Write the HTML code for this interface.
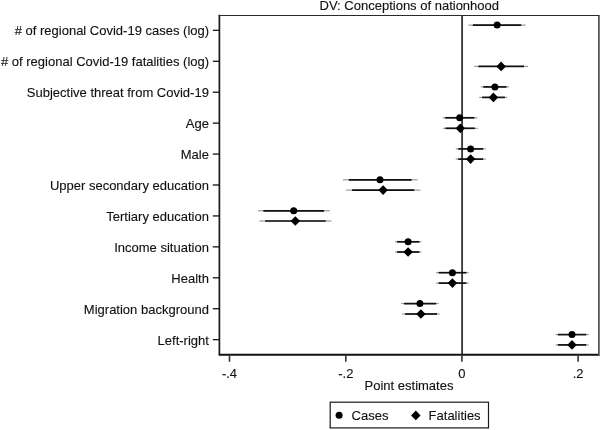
<!DOCTYPE html>
<html><head><meta charset="utf-8"><title>Coefficient plot</title>
<style>
html,body{margin:0;padding:0;background:#fff;}
body{width:600px;height:430px;overflow:hidden;}
svg{display:block;will-change:transform;}
svg text{font-family:"Liberation Sans",sans-serif;font-size:13px;fill:#111;stroke:#111;stroke-width:0.12px;}
</style></head><body>
<svg width="600" height="430" viewBox="0 0 600 430">
<rect x="0" y="0" width="600" height="430" fill="#ffffff"/>
<g>
<text x="409.3" y="10" text-anchor="middle">DV: Conceptions of nationhood</text>
<line x1="462.1" y1="15.5" x2="462.1" y2="354.6" stroke="#3a3a3a" stroke-width="1.85"/>
<path d="M219.4 14.8 V354.7" fill="none" stroke="#1a1a1a" stroke-width="1.7"/><path d="M218.65 354.7 H600" fill="none" stroke="#111" stroke-width="1.9"/><rect x="598" y="15" width="1" height="340.5" fill="#555"/><rect x="599" y="15" width="1" height="340.5" fill="#7c7c7c"/><path d="M218.7 15.5 H599" stroke="#2a2a2a" stroke-width="1.15"/>
<line x1="212.8" y1="30.35" x2="219.4" y2="30.35" stroke="#1a1a1a" stroke-width="1.35"/>
<text x="209.1" y="35" text-anchor="end"># of regional Covid-19 cases (log)</text>
<line x1="212.8" y1="61.28" x2="219.4" y2="61.28" stroke="#1a1a1a" stroke-width="1.35"/>
<text x="209.1" y="66" text-anchor="end"># of regional Covid-19 fatalities (log)</text>
<line x1="212.8" y1="92.21" x2="219.4" y2="92.21" stroke="#1a1a1a" stroke-width="1.35"/>
<text x="208.9" y="97" text-anchor="end">Subjective threat from Covid-19</text>
<line x1="212.8" y1="123.14" x2="219.4" y2="123.14" stroke="#1a1a1a" stroke-width="1.35"/>
<text x="208.9" y="128" text-anchor="end">Age</text>
<line x1="212.8" y1="154.07" x2="219.4" y2="154.07" stroke="#1a1a1a" stroke-width="1.35"/>
<text x="208.9" y="159" text-anchor="end">Male</text>
<line x1="212.8" y1="185.0" x2="219.4" y2="185.0" stroke="#1a1a1a" stroke-width="1.35"/>
<text x="208.9" y="190" text-anchor="end">Upper secondary education</text>
<line x1="212.8" y1="215.93" x2="219.4" y2="215.93" stroke="#1a1a1a" stroke-width="1.35"/>
<text x="208.9" y="221" text-anchor="end">Tertiary education</text>
<line x1="212.8" y1="246.86" x2="219.4" y2="246.86" stroke="#1a1a1a" stroke-width="1.35"/>
<text x="208.9" y="252" text-anchor="end">Income situation</text>
<line x1="212.8" y1="277.79" x2="219.4" y2="277.79" stroke="#1a1a1a" stroke-width="1.35"/>
<text x="208.9" y="283" text-anchor="end">Health</text>
<line x1="212.8" y1="308.72" x2="219.4" y2="308.72" stroke="#1a1a1a" stroke-width="1.35"/>
<text x="208.9" y="314" text-anchor="end">Migration background</text>
<line x1="212.8" y1="339.65" x2="219.4" y2="339.65" stroke="#1a1a1a" stroke-width="1.35"/>
<text x="208.9" y="345" text-anchor="end">Left-right</text>
<line x1="229.5" y1="354.6" x2="229.5" y2="361.8" stroke="#333" stroke-width="1.6"/>
<text x="229.5" y="377.8" text-anchor="middle">-.4</text>
<line x1="345.8" y1="354.6" x2="345.8" y2="361.8" stroke="#333" stroke-width="1.6"/>
<text x="345.8" y="377.8" text-anchor="middle">-.2</text>
<line x1="461.9" y1="354.6" x2="461.9" y2="361.8" stroke="#333" stroke-width="1.6"/>
<text x="461.9" y="377.8" text-anchor="middle">0</text>
<line x1="578.1" y1="354.6" x2="578.1" y2="361.8" stroke="#333" stroke-width="1.6"/>
<text x="578.1" y="377.8" text-anchor="middle">.2</text>
<text x="409" y="390.2" text-anchor="middle">Point estimates</text>
<line x1="468.4" y1="25.1" x2="525.7" y2="25.1" stroke="#6a6a6a" stroke-width="0.8"/>
<line x1="472.9" y1="25.1" x2="521.2" y2="25.1" stroke="#111" stroke-width="1.7"/>
<circle cx="497.15" cy="25.1" r="3.5" fill="#000"/>
<line x1="474.2" y1="66.4" x2="528.2" y2="66.4" stroke="#6a6a6a" stroke-width="0.8"/>
<line x1="478.4" y1="66.4" x2="524.0" y2="66.4" stroke="#111" stroke-width="1.7"/>
<path d="M501.1 61.55 l4.75 4.85 l-4.75 4.85 l-4.75 -4.85 z" fill="#000"/>
<line x1="480.8" y1="86.9" x2="508.9" y2="86.9" stroke="#6a6a6a" stroke-width="0.8"/>
<line x1="483.3" y1="86.9" x2="506.5" y2="86.9" stroke="#111" stroke-width="1.7"/>
<circle cx="494.9" cy="86.9" r="3.5" fill="#000"/>
<line x1="479.2" y1="97.4" x2="507.3" y2="97.4" stroke="#6a6a6a" stroke-width="0.8"/>
<line x1="482.1" y1="97.4" x2="504.9" y2="97.4" stroke="#111" stroke-width="1.7"/>
<path d="M493.4 92.55 l4.75 4.85 l-4.75 4.85 l-4.75 -4.85 z" fill="#000"/>
<line x1="442.6" y1="117.8" x2="477.5" y2="117.8" stroke="#6a6a6a" stroke-width="0.8"/>
<line x1="445.1" y1="117.8" x2="474.4" y2="117.8" stroke="#111" stroke-width="1.7"/>
<circle cx="459.7" cy="117.8" r="3.5" fill="#000"/>
<line x1="443.0" y1="128.3" x2="477.8" y2="128.3" stroke="#6a6a6a" stroke-width="0.8"/>
<line x1="445.5" y1="128.3" x2="474.8" y2="128.3" stroke="#111" stroke-width="1.7"/>
<path d="M460.3 123.45 l4.75 4.85 l-4.75 4.85 l-4.75 -4.85 z" fill="#000"/>
<line x1="455.7" y1="148.9" x2="485.7" y2="148.9" stroke="#6a6a6a" stroke-width="0.8"/>
<line x1="458.2" y1="148.9" x2="483.1" y2="148.9" stroke="#111" stroke-width="1.7"/>
<circle cx="470.6" cy="148.9" r="3.5" fill="#000"/>
<line x1="455.7" y1="159.1" x2="485.7" y2="159.1" stroke="#6a6a6a" stroke-width="0.8"/>
<line x1="458.2" y1="159.1" x2="483.1" y2="159.1" stroke="#111" stroke-width="1.7"/>
<path d="M470.6 154.25 l4.75 4.85 l-4.75 4.85 l-4.75 -4.85 z" fill="#000"/>
<line x1="342.9" y1="179.85" x2="417.6" y2="179.85" stroke="#6a6a6a" stroke-width="0.8"/>
<line x1="348.8" y1="179.85" x2="411.6" y2="179.85" stroke="#111" stroke-width="1.7"/>
<circle cx="380.0" cy="179.85" r="3.5" fill="#000"/>
<line x1="346.2" y1="190.1" x2="420.5" y2="190.1" stroke="#6a6a6a" stroke-width="0.8"/>
<line x1="352.1" y1="190.1" x2="414.3" y2="190.1" stroke="#111" stroke-width="1.7"/>
<path d="M383.1 185.25 l4.75 4.85 l-4.75 4.85 l-4.75 -4.85 z" fill="#000"/>
<line x1="257.9" y1="210.8" x2="329.9" y2="210.8" stroke="#6a6a6a" stroke-width="0.8"/>
<line x1="263.4" y1="210.8" x2="324.1" y2="210.8" stroke="#111" stroke-width="1.7"/>
<circle cx="293.7" cy="210.8" r="3.5" fill="#000"/>
<line x1="259.4" y1="221.0" x2="331.4" y2="221.0" stroke="#6a6a6a" stroke-width="0.8"/>
<line x1="265.1" y1="221.0" x2="325.7" y2="221.0" stroke="#111" stroke-width="1.7"/>
<path d="M295.3 216.15 l4.75 4.85 l-4.75 4.85 l-4.75 -4.85 z" fill="#000"/>
<line x1="395.1" y1="241.8" x2="421.4" y2="241.8" stroke="#6a6a6a" stroke-width="0.8"/>
<line x1="397.1" y1="241.8" x2="419.4" y2="241.8" stroke="#111" stroke-width="1.7"/>
<circle cx="408.1" cy="241.8" r="3.5" fill="#000"/>
<line x1="395.1" y1="252.0" x2="421.4" y2="252.0" stroke="#6a6a6a" stroke-width="0.8"/>
<line x1="397.1" y1="252.0" x2="419.4" y2="252.0" stroke="#111" stroke-width="1.7"/>
<path d="M408.1 247.15 l4.75 4.85 l-4.75 4.85 l-4.75 -4.85 z" fill="#000"/>
<line x1="436.1" y1="272.7" x2="468.8" y2="272.7" stroke="#6a6a6a" stroke-width="0.8"/>
<line x1="438.6" y1="272.7" x2="466.3" y2="272.7" stroke="#111" stroke-width="1.7"/>
<circle cx="452.4" cy="272.7" r="3.5" fill="#000"/>
<line x1="436.1" y1="283.1" x2="468.8" y2="283.1" stroke="#6a6a6a" stroke-width="0.8"/>
<line x1="438.6" y1="283.1" x2="466.3" y2="283.1" stroke="#111" stroke-width="1.7"/>
<path d="M452.4 278.25 l4.75 4.85 l-4.75 4.85 l-4.75 -4.85 z" fill="#000"/>
<line x1="401.3" y1="303.6" x2="438.6" y2="303.6" stroke="#6a6a6a" stroke-width="0.8"/>
<line x1="404.0" y1="303.6" x2="436.1" y2="303.6" stroke="#111" stroke-width="1.7"/>
<circle cx="419.9" cy="303.6" r="3.5" fill="#000"/>
<line x1="402.3" y1="314.0" x2="439.8" y2="314.0" stroke="#6a6a6a" stroke-width="0.8"/>
<line x1="405.1" y1="314.0" x2="437.0" y2="314.0" stroke="#111" stroke-width="1.7"/>
<path d="M420.9 309.15 l4.75 4.85 l-4.75 4.85 l-4.75 -4.85 z" fill="#000"/>
<line x1="555.7" y1="334.6" x2="588.7" y2="334.6" stroke="#6a6a6a" stroke-width="0.8"/>
<line x1="557.8" y1="334.6" x2="586.2" y2="334.6" stroke="#111" stroke-width="1.7"/>
<circle cx="572.0" cy="334.6" r="3.5" fill="#000"/>
<line x1="555.7" y1="344.9" x2="588.7" y2="344.9" stroke="#6a6a6a" stroke-width="0.8"/>
<line x1="557.8" y1="344.9" x2="586.2" y2="344.9" stroke="#111" stroke-width="1.7"/>
<path d="M572.0 340.05 l4.75 4.85 l-4.75 4.85 l-4.75 -4.85 z" fill="#000"/>
<rect x="330.2" y="402.2" width="158.3" height="25.7" fill="#fff" stroke="#1a1a1a" stroke-width="1.2"/>
<circle cx="339.1" cy="415.3" r="3.5" fill="#000"/>
<text x="351.6" y="420">Cases</text>
<path d="M415.8 410.55 l4.75 4.85 l-4.75 4.85 l-4.75 -4.85 z" fill="#000"/>
<text x="428.6" y="420">Fatalities</text>
</g>
</svg>
</body></html>
